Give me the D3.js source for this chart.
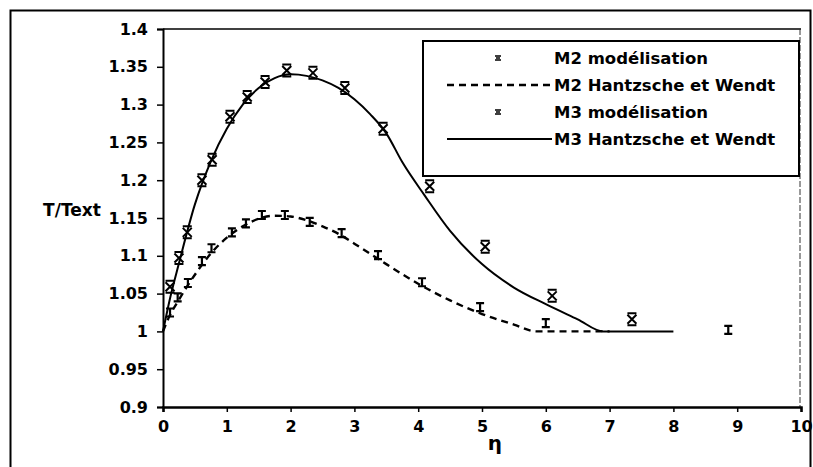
<!DOCTYPE html>
<html>
<head>
<meta charset="utf-8">
<script src="https://cdn.jsdelivr.net/npm/d3@7"></script>
<style>
  html, body { margin: 0; padding: 0; background: #fff; }
  svg { display: block; }
  text { font-family: "DejaVu Sans", sans-serif; fill: #000; }
</style>
</head>
<body>
<svg id="chart" width="813" height="467"></svg>
<script>
// ---- Data ----
const xTicks = [0, 1, 2, 3, 4, 5, 6, 7, 8, 9, 10];
const yTicks = [0.9, 0.95, 1, 1.05, 1.1, 1.15, 1.2, 1.25, 1.3, 1.35, 1.4];
const yTickLabels = ["0.9", "0.95", "1", "1.05", "1.1", "1.15", "1.2", "1.25", "1.3", "1.35", "1.4"];

// M2 modélisation (points)
const m2ModX = [0.11, 0.23, 0.39, 0.61, 0.76, 1.08, 1.30, 1.55, 1.91, 2.30, 2.80, 3.37, 4.06, 4.97, 6.0, 8.86];
const m2ModY = [1.025, 1.045, 1.064, 1.093, 1.11, 1.131, 1.143, 1.154, 1.154, 1.145, 1.130, 1.101, 1.065, 1.032, 1.011, 1.002];

// M2 Hantzsche et Wendt (dashed line)
const m2HwX = [0, 0.1, 0.25, 0.5, 0.75, 1, 1.25, 1.5, 1.75, 2, 2.25, 2.5, 2.75, 3, 3.5, 4, 4.5, 5, 5.5, 5.85, 6.5, 7];
const m2HwY = [1, 1.02, 1.042, 1.075, 1.103, 1.124, 1.139, 1.149, 1.153, 1.152, 1.147, 1.139, 1.129, 1.116, 1.089, 1.063, 1.041, 1.023, 1.009, 1.0, 1.0, 1.0];

// M3 modélisation (points)
const m3ModX = [0.11, 0.25, 0.38, 0.61, 0.77, 1.05, 1.32, 1.60, 1.94, 2.35, 2.85, 3.45, 4.18, 5.05, 6.1, 7.35];
const m3ModY = [1.059, 1.097, 1.131, 1.200, 1.227, 1.284, 1.310, 1.330, 1.345, 1.342, 1.322, 1.268, 1.192, 1.112, 1.047, 1.016];

// M3 Hantzsche et Wendt (solid line)
const m3HwX = [0, 0.1, 0.25, 0.5, 0.75, 1, 1.25, 1.5, 1.75, 2, 2.25, 2.5, 2.75, 3, 3.25, 3.5, 3.75, 4.1, 4.5, 5, 5.5, 6, 6.5, 6.9, 7.5, 8];
const m3HwY = [1, 1.04, 1.09, 1.168, 1.225, 1.268, 1.300, 1.322, 1.335, 1.340, 1.338, 1.332, 1.322, 1.307, 1.287, 1.262, 1.224, 1.180, 1.133, 1.089, 1.058, 1.036, 1.016, 1.0, 1.0, 1.0];

const legendLabels = ["M2 modélisation", "M2 Hantzsche et Wendt", "M3 modélisation", "M3 Hantzsche et Wendt"];

// ---- Layout ----
const svg = d3.select("#chart");
const plot = { left: 163, right: 801, top: 29, bottom: 407 };

const x = d3.scaleLinear().domain([0, 10]).range([plot.left, plot.right]);
const y = d3.scaleLinear().domain([0.9, 1.4]).range([plot.bottom, plot.top]);

// outer frame
svg.append("rect").attr("x", 10.5).attr("y", 10.5).attr("width", 800).attr("height", 480)
  .attr("fill", "none").attr("stroke", "#000").attr("stroke-width", 2);

// plot top border & right edge
svg.append("line").attr("x1", plot.left).attr("x2", plot.right).attr("y1", plot.top).attr("y2", plot.top)
  .attr("stroke", "#000").attr("stroke-width", 1.5);
svg.append("line").attr("x1", plot.right - 1).attr("x2", plot.right - 1).attr("y1", plot.top).attr("y2", plot.bottom)
  .attr("stroke", "#333").attr("stroke-width", 1).attr("stroke-dasharray", "6,2");

// axes
const xAxis = d3.axisBottom(x).tickValues(xTicks).tickSize(5).tickPadding(9).tickFormat(d3.format("d"));
const gx = svg.append("g").attr("transform", `translate(0,${plot.bottom})`).call(xAxis);
gx.select(".domain").attr("stroke-width", 2.5);
gx.selectAll(".tick line").attr("stroke-width", 1.5);
gx.selectAll("text").attr("font-size", 16).attr("font-weight", "bold").attr("font-family", "DejaVu Sans");

const yAxis = d3.axisLeft(y).tickValues(yTicks).tickSize(6).tickPadding(9)
  .tickFormat((d, i) => yTickLabels[i]);
const gy = svg.append("g").attr("transform", `translate(${plot.left},0)`).call(yAxis);
gy.select(".domain").attr("stroke-width", 2);
gy.selectAll(".tick line").attr("stroke-width", 1.5);
gy.selectAll("text").attr("font-size", 16).attr("font-weight", "bold").attr("font-family", "DejaVu Sans");

// axis titles
svg.append("text").attr("x", 72).attr("y", 216).attr("text-anchor", "middle")
  .attr("font-size", 17).attr("font-weight", "bold").text("T/Text");
svg.append("text").attr("x", x(5.2)).attr("y", 450).attr("text-anchor", "middle")
  .attr("font-size", 20).attr("font-weight", "bold").text("η");

// lines
const line = d3.line().x(d => x(d[0])).y(d => y(d[1]));
const m2Hw = m2HwX.map((v, i) => [v, m2HwY[i]]);
const m3Hw = m3HwX.map((v, i) => [v, m3HwY[i]]);

svg.append("path").datum(m3Hw).attr("d", line.curve(d3.curveMonotoneX))
  .attr("fill", "none").attr("stroke", "#000").attr("stroke-width", 2);
svg.append("path").datum(m2Hw).attr("d", line.curve(d3.curveMonotoneX))
  .attr("fill", "none").attr("stroke", "#000").attr("stroke-width", 2.4).attr("stroke-dasharray", "7,5");

// marker shapes
function m3Marker(g, cx, cy, s) {
  const p = `M${cx - s},${cy - s}L${cx + s},${cy + s}M${cx + s},${cy - s}L${cx - s},${cy + s}` +
            `M${cx - s},${cy - s - 1.5}L${cx + s},${cy - s - 1.5}M${cx - s},${cy + s + 1.5}L${cx + s},${cy + s + 1.5}`;
  g.append("path").attr("d", p).attr("stroke", "#000").attr("stroke-width", 2).attr("fill", "none");
}
function m2Marker(g, cx, cy, s) {
  const p = `M${cx - s},${cy - s}L${cx + s},${cy - s}M${cx},${cy - s}L${cx},${cy + s}M${cx - s},${cy + s}L${cx + s},${cy + s}`;
  g.append("path").attr("d", p).attr("stroke", "#000").attr("stroke-width", 2.2).attr("fill", "none");
}

const gm = svg.append("g");
m2ModX.forEach((v, i) => m2Marker(gm, x(v), y(m2ModY[i]), 4));
m3ModX.forEach((v, i) => m3Marker(gm, x(v), y(m3ModY[i]), 4.5));

// legend
const lg = svg.append("g");
lg.append("rect").attr("x", 423).attr("y", 41).attr("width", 376).attr("height", 135)
  .attr("fill", "#fff").attr("stroke", "#000").attr("stroke-width", 2);
const rowY = [58, 85, 112, 139];
const textX = 554;
legendLabels.forEach((lab, i) => {
  lg.append("text").attr("x", textX).attr("y", rowY[i]).attr("dy", "0.35em")
    .attr("font-size", 16.5).attr("font-weight", "bold").text(lab);
});
// legend symbols
function miniMarker(cx, cy) {
  lg.append("path").attr("d", `M${cx - 3},${cy - 2}L${cx + 3},${cy - 2}M${cx - 3},${cy + 2}L${cx + 3},${cy + 2}M${cx - 2},${cy}L${cx + 2},${cy}`)
    .attr("stroke", "#000").attr("stroke-width", 1.4);
}
miniMarker(498, rowY[0]);
miniMarker(498, rowY[2]);
lg.append("line").attr("x1", 447).attr("x2", 552).attr("y1", rowY[1]).attr("y2", rowY[1])
  .attr("stroke", "#000").attr("stroke-width", 2.4).attr("stroke-dasharray", "7,5");
lg.append("line").attr("x1", 447).attr("x2", 552).attr("y1", rowY[3]).attr("y2", rowY[3])
  .attr("stroke", "#000").attr("stroke-width", 2);
</script>
</body>
</html>
